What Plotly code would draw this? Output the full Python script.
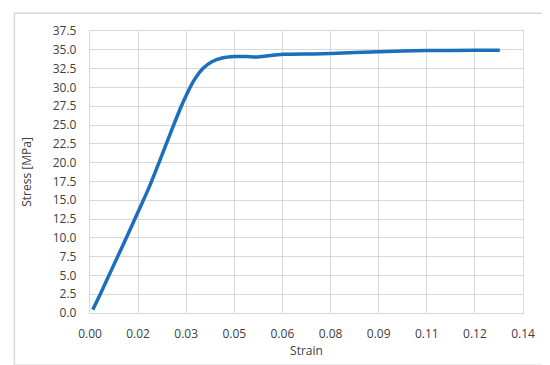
import plotly.graph_objects as go

# strain / stress
strain = [0.0009, 0.0032, 0.0077, 0.0122, 0.0156, 0.0190, 0.0224, 0.0258, 0.0292,
          0.0314, 0.0337, 0.0365, 0.0394, 0.0427, 0.0467, 0.0507, 0.0540, 0.0574,
          0.0623, 0.0721, 0.0778, 0.0933, 0.1089, 0.1244, 0.1325]
stress = [0.45, 2.4, 6.4, 10.4, 13.5, 16.6, 20.1, 23.7, 27.2,
          29.2, 31.0, 32.5, 33.4, 33.9, 34.1, 34.1, 34.05, 34.2,
          34.4, 34.45, 34.5, 34.75, 34.9, 34.93, 34.93]

x_ticks = [i * 0.14 / 9 for i in range(10)]
x_labels = ['0.00', '0.02', '0.03', '0.05', '0.06', '0.08', '0.09', '0.11', '0.12', '0.14']

grid = '#d9d9d9'
txt = '#404040'

fig = go.Figure(go.Scatter(
    x=strain, y=stress,
    mode='lines',
    line=dict(color='#1b6fbd', width=3.5, shape='spline', smoothing=0.6),
    showlegend=False
))

fig.update_xaxes(
    range=[0, 0.14],
    tickvals=x_ticks, ticktext=x_labels,
    showgrid=True, gridcolor=grid, gridwidth=1.3,
    showline=True, linecolor=grid, linewidth=1.3, mirror=True,
    zeroline=False, ticks='outside', ticklen=9, tickcolor='rgba(0,0,0,0)',
    tickfont=dict(size=12, color=txt),
    title=dict(text='Strain', font=dict(size=12, color=txt), standoff=4)
)
fig.update_yaxes(
    range=[0, 37.5], dtick=2.5, tickformat='.1f',
    showgrid=True, gridcolor=grid, gridwidth=1.3,
    showline=True, linecolor=grid, linewidth=1.3, mirror=True,
    zeroline=False, ticks='outside', ticklen=10, tickcolor='rgba(0,0,0,0)',
    tickfont=dict(size=12, color=txt),
    title=dict(text='Stress [MPa]', font=dict(size=12, color=txt), standoff=18)
)

# light frame around the whole chart
fig.add_shape(type='rect', xref='paper', yref='paper',
              x0=-0.1746, x1=1.0640, y0=-0.1850, y1=1.0627,
              line=dict(color=grid, width=1.5), layer='below')

fig.update_layout(
    width=550, height=365,
    margin=dict(l=82, r=35, t=23, b=60),
    paper_bgcolor='white', plot_bgcolor='white',
    font=dict(family='Open Sans', color=txt)
)

fig.write_html('out.html')
